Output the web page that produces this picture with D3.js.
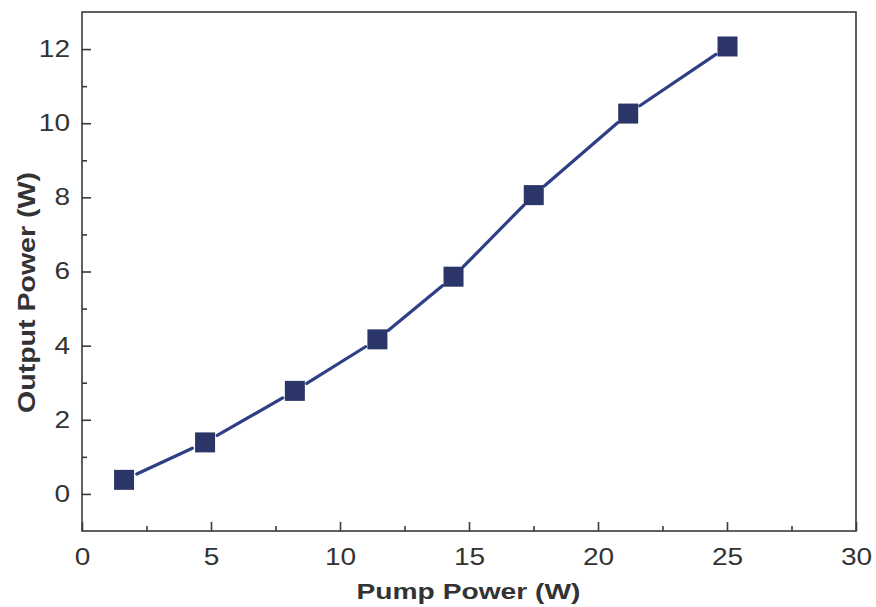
<!DOCTYPE html>
<html><head><meta charset="utf-8">
<script src="https://cdn.jsdelivr.net/npm/d3@7"></script>
<style>body{margin:0;background:#fff}svg{display:block}</style>
</head><body>
<svg id="c" width="876" height="607"></svg>
<script>
const pumpPower = [1.63, 4.77, 8.25, 11.45, 14.40, 17.51, 21.17, 25.02];
const outputPower = [0.38, 1.39, 2.78, 4.17, 5.86, 8.06, 10.26, 12.07];
const xTicks = [0, 5, 10, 15, 20, 25, 30];
const yTicks = [0, 2, 4, 6, 8, 10, 12];
const xMinor = [2.5, 7.5, 12.5, 17.5, 22.5, 27.5];
const yMinor = [1, 3, 5, 7, 9, 11];
const xTitle = "Pump Power (W)";
const yTitle = "Output Power (W)";

const L = 82, R = 856, T = 12, B = 531;
const svg = d3.select("#c");
const x = d3.scaleLinear().domain([0, 30]).range([L, R]);
const y = d3.scaleLinear().domain([-1, 13]).range([B, T]);
const axisCol = "#3a3a3a";
const font = "'Liberation Sans', Arial, sans-serif";

// frame
svg.append("rect").attr("x", L).attr("y", T).attr("width", R - L).attr("height", B - T)
  .attr("fill", "none").attr("stroke", axisCol).attr("stroke-width", 1.6);

// x axis (ticks inward)
const gx = svg.append("g").attr("transform", `translate(0,${B})`)
  .call(d3.axisBottom(x).tickValues(xTicks).tickSize(-9).tickPadding(0).tickFormat(d3.format("d")));
gx.select(".domain").remove();
gx.selectAll("line").attr("stroke", axisCol).attr("stroke-width", 1.6);
gx.selectAll("text").attr("y", 18).attr("font-size", 23).attr("font-family", font).attr("fill", "#333");
svg.append("g").attr("transform", `translate(0,${B})`)
  .call(d3.axisBottom(x).tickValues(xMinor).tickSize(-5).tickFormat(""))
  .call(g => { g.select(".domain").remove(); g.selectAll("line").attr("stroke", axisCol).attr("stroke-width", 1.6); });

// y axis
const gy = svg.append("g").attr("transform", `translate(${L},0)`)
  .call(d3.axisLeft(y).tickValues(yTicks).tickSize(-9).tickPadding(12).tickFormat(d3.format("d")));
gy.select(".domain").remove();
gy.selectAll("line").attr("stroke", axisCol).attr("stroke-width", 1.6);
gy.selectAll("text").attr("x", -12).attr("font-size", 23).attr("font-family", font).attr("fill", "#333");
svg.append("g").attr("transform", `translate(${L},0)`)
  .call(d3.axisLeft(y).tickValues(yMinor).tickSize(-5).tickFormat(""))
  .call(g => { g.select(".domain").remove(); g.selectAll("line").attr("stroke", axisCol).attr("stroke-width", 1.6); });

// widen tick label glyphs to match reference
svg.selectAll(".tick text").each(function () {
  const w = this.getComputedTextLength();
  if (w > 0) d3.select(this).attr("textLength", w * 1.22).attr("lengthAdjust", "spacingAndGlyphs");
});

// line segments with gaps around markers
const pts = pumpPower.map((v, i) => [x(v), y(outputPower[i])]);
const gap = 14;
const segs = d3.pairs(pts).map(([a, b]) => {
  const dx = b[0] - a[0], dy = b[1] - a[1], d = Math.hypot(dx, dy);
  const ux = dx / d, uy = dy / d;
  return [a[0] + ux * gap, a[1] + uy * gap, b[0] - ux * gap, b[1] - uy * gap];
});
svg.append("g").selectAll("line").data(segs).join("line")
  .attr("x1", d => d[0]).attr("y1", d => d[1]).attr("x2", d => d[2]).attr("y2", d => d[3])
  .attr("stroke", "#2e3f86").attr("stroke-width", 3.2).attr("stroke-linecap", "round");

// markers
const ms = 20;
svg.append("g").selectAll("rect").data(pumpPower).join("rect")
  .attr("x", (d) => x(d) - ms / 2).attr("y", (d, i) => y(outputPower[i]) - ms / 2)
  .attr("width", ms).attr("height", ms).attr("fill", "#2b3567");

// axis titles
svg.append("text").attr("x", 468.5).attr("y", 599).attr("text-anchor", "middle")
  .attr("font-family", font).attr("font-weight", "bold").attr("font-size", 22).attr("fill", "#333")
  .attr("textLength", 224).attr("lengthAdjust", "spacingAndGlyphs").text(xTitle);
svg.append("text").attr("transform", "translate(35,292.5) rotate(-90)").attr("text-anchor", "middle")
  .attr("font-family", font).attr("font-weight", "bold").attr("font-size", 24).attr("fill", "#333")
  .attr("textLength", 241).attr("lengthAdjust", "spacingAndGlyphs").text(yTitle);
</script>
</body></html>
